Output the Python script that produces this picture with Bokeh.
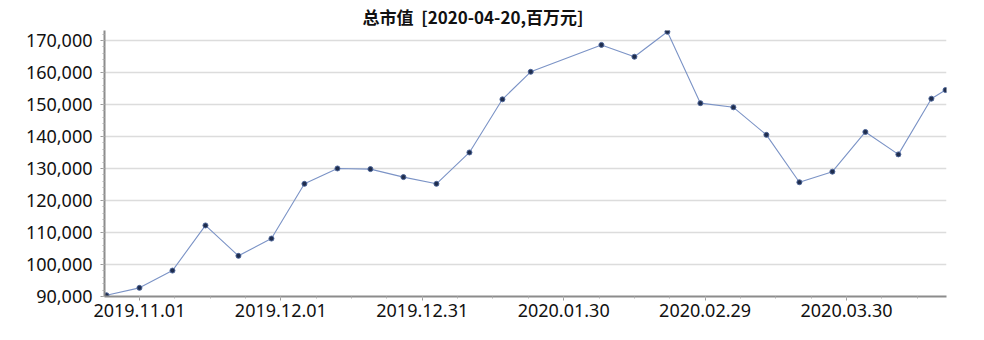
import pandas as pd
from bokeh.plotting import figure
from bokeh.models import (Range1d, FixedTicker, SingleIntervalTicker,
                          NumeralTickFormatter, DatetimeTickFormatter)
from bokeh.embed import file_html
from bokeh.resources import INLINE

dates = ["2019-10-25", "2019-11-01", "2019-11-08", "2019-11-15", "2019-11-22",
         "2019-11-29", "2019-12-06", "2019-12-13", "2019-12-20", "2019-12-27",
         "2020-01-03", "2020-01-10", "2020-01-17", "2020-01-23", "2020-02-07",
         "2020-02-14", "2020-02-21", "2020-02-28", "2020-03-06", "2020-03-13",
         "2020-03-20", "2020-03-27", "2020-04-03", "2020-04-10", "2020-04-17",
         "2020-04-20"]
values = [90400, 92700, 98100, 112200, 102700, 108100, 125200, 130000, 129800,
          127300, 125200, 135000, 151600, 160200, 168600, 164900, 172700,
          150400, 149100, 140500, 125700, 129000, 141400, 134400, 151800,
          154500]
tick_dates = ["2019-11-01", "2019-12-01", "2019-12-31", "2020-01-30",
              "2020-02-29", "2020-03-30"]
title_text = "总市值\u00a0\u00a0[2020-04-20,百万元]"

x = pd.to_datetime(dates)
ms = lambda t: pd.Timestamp(t).value / 1e6
major = [ms(t) for t in tick_dates]
step = 7.5 * 86400000
minor = [major[0] - step + i * step for i in range(0, 26)]

x_start = pd.Timestamp(dates[0]) - pd.Timedelta(hours=10)
x_end = pd.Timestamp(dates[-1]) + pd.Timedelta(hours=5)

p = figure(width=984, height=340, x_axis_type="datetime",
           output_backend="svg", toolbar_location=None,
           x_range=Range1d(x_start, x_end), y_range=Range1d(90000, 173100))
p.min_border_left = 104
p.min_border_right = 38
p.min_border_top = 30
p.min_border_bottom = 44
p.outline_line_color = None
p.background_fill_color = "white"
p.border_fill_color = "white"

p.title.text = title_text
p.title.text_font = "Noto Sans CJK SC"
p.title.text_font_size = "17px"
p.title.text_font_style = "bold"
p.title.text_color = "#111111"
p.title.align = "left"
p.title.offset = 258
p.title.standoff = 3

p.line(x, values, line_color="#7b93c6", line_width=1.1)
p.scatter(x, values, size=5, fill_color="#1f2d4d", line_color="#4d6598",
          line_width=1)

p.xgrid.grid_line_color = None
p.ygrid.grid_line_color = "#dcdcdc"
p.ygrid.grid_line_width = 1.5

p.yaxis.ticker = SingleIntervalTicker(interval=10000, num_minor_ticks=5)
p.yaxis.formatter = NumeralTickFormatter(format="0,0")
p.xaxis.ticker = FixedTicker(ticks=major, minor_ticks=minor)
fmt = "%Y.%m.%d"
p.xaxis.formatter = DatetimeTickFormatter(days=fmt, months=fmt, years=fmt,
                                          hours=fmt, minutes=fmt)

for ax in (p.xaxis[0], p.yaxis[0]):
    ax.axis_line_color = "#8c8c8c"
    ax.axis_line_width = 2
    ax.major_tick_line_color = "#9a9a9a"
    ax.minor_tick_line_color = "#b0b0b0"
    ax.major_tick_out = 4
    ax.major_tick_in = 0
    ax.minor_tick_out = 2
    ax.minor_tick_in = 0
    ax.major_label_text_font = "Noto Sans"
    ax.major_label_text_font_size = "18px"
    ax.major_label_text_color = "#111111"
p.yaxis.major_label_standoff = 8
p.xaxis.major_label_standoff = 3

open("out.html", "w").write(file_html(p, INLINE))
